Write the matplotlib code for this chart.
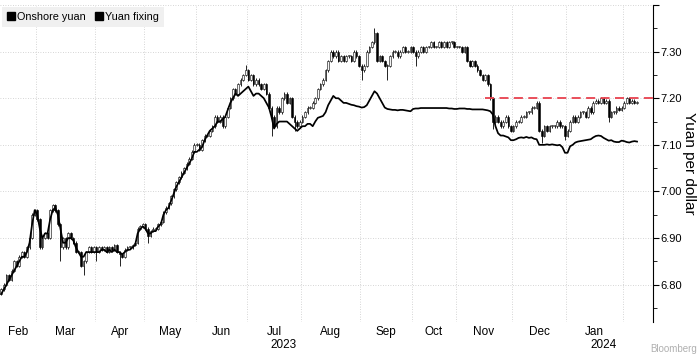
import numpy as np
import pandas as pd
import matplotlib
matplotlib.use("Agg")
import matplotlib.pyplot as plt
import matplotlib.ticker as mticker
from matplotlib.lines import Line2D
from matplotlib.transforms import blended_transform_factory

plt.rcParams['font.family'] = ['Liberation Sans', 'DejaVu Sans']

# onshore trading calendar: weekdays minus mainland holidays
holidays = ['2023-04-05', '2023-05-01', '2023-05-02', '2023-05-03',
            '2023-06-22', '2023-06-23', '2023-09-29', '2023-10-02',
            '2023-10-03', '2023-10-04', '2023-10-05', '2023-10-06',
            '2024-01-01']
days = pd.bdate_range('2023-02-09', '2024-02-08', freq='C', holidays=holidays)

# onshore yuan daily close, by month
feb_close = [6.79, 6.80, 6.82, 6.81, 6.83, 6.85, 6.84, 6.86, 6.87, 6.86, 6.88, 6.90, 6.95, 6.96]
mar_close = [6.94, 6.88, 6.90, 6.91, 6.90, 6.96, 6.97, 6.96, 6.93, 6.88, 6.90, 6.88, 6.91,
             6.90, 6.89, 6.87, 6.87, 6.84, 6.85, 6.87, 6.88, 6.87, 6.88]
apr_close = [6.87, 6.88, 6.875, 6.88, 6.87, 6.88, 6.875, 6.885, 6.87, 6.865, 6.86, 6.875,
             6.88, 6.88, 6.885, 6.89, 6.92, 6.925, 6.93]
may_close = [6.92, 6.905, 6.915, 6.92, 6.92, 6.93, 6.935, 6.955, 6.965, 6.975, 6.99, 7.005,
             7.02, 7.03, 7.04, 7.05, 7.06, 7.07, 7.085, 7.10]
jun_close = [7.10, 7.09, 7.11, 7.12, 7.12, 7.13, 7.14, 7.16, 7.15, 7.16, 7.14, 7.16, 7.18,
             7.20, 7.22, 7.21, 7.23, 7.24, 7.25, 7.26]
jul_close = [7.24, 7.25, 7.23, 7.24, 7.23, 7.22, 7.23, 7.21, 7.18, 7.16, 7.14, 7.18, 7.17,
             7.20, 7.21, 7.19, 7.20, 7.16, 7.15, 7.14, 7.15]
aug_close = [7.16, 7.17, 7.18, 7.18, 7.19, 7.20, 7.22, 7.23, 7.24, 7.26, 7.28, 7.30, 7.29,
             7.30, 7.28, 7.29, 7.28, 7.29, 7.29, 7.28, 7.30, 7.29, 7.27]
sep_close = [7.26, 7.27, 7.30, 7.31, 7.32, 7.34, 7.28, 7.29, 7.28, 7.27, 7.27, 7.29, 7.30,
             7.30, 7.29, 7.30, 7.31, 7.30, 7.30, 7.31]
oct_close = [7.30, 7.29, 7.30, 7.31, 7.30, 7.31, 7.31, 7.32, 7.31, 7.31, 7.32, 7.31, 7.32,
             7.31, 7.32, 7.32, 7.31]
nov_close = [7.31, 7.31, 7.30, 7.31, 7.28, 7.27, 7.28, 7.27, 7.26, 7.25, 7.24, 7.25, 7.23,
             7.20, 7.15, 7.16, 7.15, 7.14, 7.15, 7.16, 7.14, 7.13]
dec_close = [7.14, 7.15, 7.15, 7.16, 7.16, 7.17, 7.17, 7.18, 7.18, 7.19, 7.13, 7.12, 7.14,
             7.13, 7.14, 7.14, 7.14, 7.15, 7.14, 7.14, 7.12]
jan_close = [7.13, 7.15, 7.16, 7.15, 7.16, 7.17, 7.17, 7.16, 7.18, 7.17, 7.19, 7.195, 7.19,
             7.20, 7.19, 7.195, 7.16, 7.17, 7.17, 7.18, 7.175, 7.18]
feb24_close = [7.19, 7.20, 7.19, 7.195, 7.19, 7.19]
first_open = 6.78

# wicks that stick out beyond the bodies (trading-day index -> price)
wick_low = {23: 6.85, 32: 6.82, 37: 6.85, 46: 6.84, 57: 6.89, 105: 7.12, 114: 7.13,
            140: 7.24, 150: 7.24, 161: 7.27, 191: 7.135, 210: 7.105, 219: 7.11, 236: 7.15}
wick_high = {95: 7.272, 145: 7.35}

# PBOC yuan fixing, by month
feb_fix = [6.78, 6.79, 6.80, 6.81, 6.82, 6.83, 6.84, 6.85, 6.86, 6.86, 6.87, 6.89, 6.93, 6.96]
mar_fix = [6.95, 6.92, 6.90, 6.91, 6.91, 6.94, 6.96, 6.965, 6.95, 6.92, 6.89, 6.89, 6.90,
           6.90, 6.895, 6.88, 6.87, 6.86, 6.86, 6.87, 6.87, 6.87, 6.87]
apr_fix = [6.87, 6.87, 6.875, 6.875, 6.87, 6.875, 6.87, 6.875, 6.87, 6.87, 6.865, 6.87,
           6.875, 6.875, 6.88, 6.885, 6.91, 6.92, 6.925]
may_fix = [6.92, 6.91, 6.91, 6.915, 6.915, 6.925, 6.93, 6.95, 6.96, 6.965, 6.98, 6.995,
           7.01, 7.02, 7.03, 7.04, 7.05, 7.06, 7.07, 7.085]
jun_fix = [7.085, 7.09, 7.095, 7.11, 7.12, 7.13, 7.135, 7.14, 7.15, 7.15, 7.155, 7.16,
           7.175, 7.19, 7.20, 7.21, 7.205, 7.21, 7.215, 7.22]
jul_fix = [7.225, 7.215, 7.205, 7.21, 7.21, 7.205, 7.20, 7.19, 7.18, 7.16, 7.135, 7.145,
           7.15, 7.15, 7.15, 7.15, 7.145, 7.14, 7.135, 7.13, 7.135]
aug_fix = [7.14, 7.14, 7.145, 7.145, 7.14, 7.15, 7.158, 7.16, 7.162, 7.17, 7.185, 7.195,
           7.205, 7.20, 7.20, 7.195, 7.19, 7.19, 7.188, 7.186, 7.185, 7.183, 7.182]
sep_fix = [7.18, 7.181, 7.185, 7.195, 7.205, 7.215, 7.21, 7.20, 7.19, 7.18, 7.177, 7.176,
           7.175, 7.175, 7.174, 7.175, 7.175, 7.174, 7.173, 7.172]
oct_fix = [7.177, 7.178, 7.178, 7.179, 7.179, 7.179, 7.179, 7.179, 7.179, 7.179, 7.179,
           7.179, 7.179, 7.179, 7.178, 7.178, 7.177]
nov_fix = [7.177, 7.178, 7.178, 7.178, 7.177, 7.177, 7.176, 7.176, 7.176, 7.176, 7.176,
           7.175, 7.174, 7.172, 7.165, 7.14, 7.125, 7.12, 7.12, 7.118, 7.116, 7.11]
dec_fix = [7.11, 7.112, 7.115, 7.116, 7.115, 7.117, 7.115, 7.116, 7.113, 7.112, 7.10, 7.10,
           7.10, 7.101, 7.10, 7.101, 7.10, 7.099, 7.10, 7.095, 7.083]
jan_fix = [7.083, 7.097, 7.10, 7.105, 7.107, 7.108, 7.109, 7.11, 7.111, 7.112, 7.116, 7.119,
           7.12, 7.119, 7.115, 7.112, 7.109, 7.11, 7.107, 7.106, 7.106, 7.109]
feb24_fix = [7.108, 7.106, 7.105, 7.107, 7.108, 7.107]

level = 7.20           # red dashed reference level
level_start = '2023-11-16'

close = np.array(feb_close + mar_close + apr_close + may_close + jun_close + jul_close
                 + aug_close + sep_close + oct_close + nov_close + dec_close + jan_close
                 + feb24_close)
fix = np.array(feb_fix + mar_fix + apr_fix + may_fix + jun_fix + jul_fix + aug_fix
               + sep_fix + oct_fix + nov_fix + dec_fix + jan_fix + feb24_fix)
n = min(len(days), len(close), len(fix))
days, close, fix = days[:n], close[:n], fix[:n]
x = np.arange(n)

opn = np.concatenate([[first_open], close[:-1]])
high = np.maximum(opn, close) + 0.003
low = np.minimum(opn, close) - 0.003
for i, v in wick_low.items():
    low[i] = v
for i, v in wick_high.items():
    high[i] = v

fig = plt.figure(figsize=(6.99, 3.55), dpi=100)
ax = fig.add_axes([0, 33 / 355, 653 / 699, 317 / 355])

# month boundaries on the trading-day axis
months = days.to_period('M')
starts = [0] + [i for i in range(1, n) if months[i] != months[i - 1]]
xmin, xmax = -0.48, 253.2
ax.set_xlim(xmin, xmax)
ax.set_ylim(6.72, 7.40)

grid_kw = dict(color='#c8c8c8', lw=0.6, linestyle=(0, (1, 2)), zorder=0)
for s in starts[1:]:
    ax.axvline(s - 0.5, **grid_kw)
for yv in np.arange(6.80, 7.41, 0.10):
    ax.axhline(yv, **grid_kw)

# candles
ax.vlines(x, low, high, color='black', lw=0.6, zorder=2)
up = close >= opn
body = np.maximum(np.abs(close - opn), 0.002)
ax.bar(x[up], body[up], bottom=opn[up], width=0.62, color='#f4f4f4',
       edgecolor='black', linewidth=0.4, zorder=3)
ax.bar(x[~up], body[~up], bottom=close[~up], width=0.62, color='black',
       edgecolor='black', linewidth=0.4, zorder=3)

# fixing
ax.plot(x, fix, color='black', lw=1.25, zorder=4, solid_joinstyle='round')

# reference level
i0 = int(np.searchsorted(days, pd.Timestamp(level_start)))
ax.plot([i0, xmax], [level, level], color='#e8414e', lw=1.3,
        linestyle=(0, (5, 3)), zorder=5)

# axes styling
for side in ['left', 'top', 'bottom']:
    ax.spines[side].set_visible(False)
ax.spines['right'].set_linewidth(0.8)
ax.yaxis.tick_right()
yt = np.round(np.arange(6.80, 7.41, 0.10), 2)
ax.set_yticks(yt)
ax.set_yticklabels([f'{v:.2f}' if v < 7.35 else '' for v in yt])
ax.yaxis.set_minor_locator(mticker.MultipleLocator(0.05))
ax.tick_params(axis='y', which='major', length=4, width=0.8, pad=1.5,
               labelsize=8, colors='black')
ax.tick_params(axis='y', which='minor', length=3, width=0.6)
ax.set_xticks([])

# month labels centred in the visible part of each month
bounds = [xmin] + [s - 0.5 for s in starts[1:]] + [xmax]
tr = blended_transform_factory(ax.transData, ax.transAxes)
for k, s in enumerate(starts):
    a, b = bounds[k], bounds[k + 1]
    if b - a < 12:
        continue
    c = (a + b) / 2
    ax.text(c, -0.0315, days[s].strftime('%b'), transform=tr, ha='center',
            va='center', fontsize=8.5)
    if days[s].month in (1, 7):
        ax.text(c + 3.5, -0.074, str(days[s].year), transform=tr, ha='center',
                va='center', fontsize=8.5)

fig.text(689 / 699, 1 - 163 / 355, 'Yuan per dollar', rotation=270,
         ha='center', va='center', fontsize=11)
fig.text(697 / 699, 1 / 355, 'Bloomberg', ha='right', va='bottom',
         fontsize=7, color='#b0b0b0')

handles = [Line2D([], [], marker='s', color='black', linestyle='none', markersize=6),
           Line2D([], [], marker='s', color='black', linestyle='none', markersize=6)]
leg = ax.legend(handles, ['Onshore yuan', 'Yuan fixing'], loc='upper left',
                bbox_to_anchor=(0, 1), ncol=2, frameon=True, fontsize=7.8,
                handlelength=0.7, handletextpad=0.2, columnspacing=0.9,
                borderaxespad=0.2, borderpad=0.45, fancybox=False)
leg.get_frame().set_facecolor('#f0f0f0')
leg.get_frame().set_edgecolor('none')
leg.get_frame().set_alpha(1)
leg.set_zorder(6)

fig.savefig('out.png', dpi=100)
